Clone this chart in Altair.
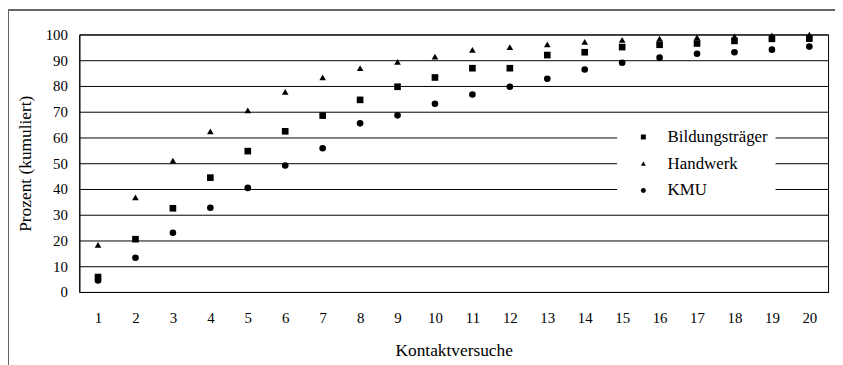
import altair as alt
import pandas as pd

kontakt = list(range(1, 21))
bildung = [5.8, 20.5, 32.5, 44.4, 54.7, 62.4, 68.5, 74.6, 79.7, 83.3,
           86.9, 86.9, 92.0, 93.1, 95.1, 96.0, 96.5, 97.5, 98.3, 98.4]
handwerk = [18.3, 36.7, 51.0, 62.4, 70.5, 77.7, 83.3, 86.9, 89.4, 91.4,
            94.0, 95.1, 96.2, 97.1, 97.9, 98.4, 98.9, 99.3, 99.6, 99.9]
kmu = [4.5, 13.3, 23.0, 32.7, 40.4, 49.1, 55.8, 65.5, 68.6, 73.1,
       76.7, 79.7, 82.8, 86.4, 89.0, 91.0, 92.5, 93.1, 94.1, 95.3]
series = ["Bildungsträger", "Handwerk", "KMU"]
shapes = ["square", "triangle-up", "circle"]

rows = []
for name, vals in zip(series, [bildung, handwerk, kmu]):
    for k, v in zip(kontakt, vals):
        rows.append({"Kontaktversuche": k, "Prozent": v, "Gruppe": name})
df = pd.DataFrame(rows)

FONT = "Liberation Serif"
axis_style = dict(labelFont=FONT, labelFontSize=15, labelColor="black",
                  titleFont=FONT, titleFontSize=17.5, titleFontWeight="normal",
                  titleColor="black")

points = alt.Chart(df).mark_point(filled=True, color="black", size=45, opacity=1).encode(
    x=alt.X("Kontaktversuche:O",
            scale=alt.Scale(type="point", padding=0.5),
            axis=alt.Axis(title="Kontaktversuche", labelAngle=0, ticks=False,
                          labelPadding=19, titlePadding=16, domain=True,
                          domainColor="black", grid=False, **axis_style)),
    y=alt.Y("Prozent:Q",
            scale=alt.Scale(domain=[0, 100], nice=False),
            axis=alt.Axis(title="Prozent (kumuliert)", values=list(range(0, 101, 10)),
                          ticks=False, labelPadding=12, titlePadding=11,
                          domain=True, domainColor="black",
                          grid=True, gridColor="black", gridWidth=1, **axis_style)),
    shape=alt.Shape("Gruppe:N",
                    scale=alt.Scale(domain=series, range=shapes),
                    legend=alt.Legend(title=None, orient="none", legendX=543, legendY=88,
                                      fillColor="white", padding=7, symbolOffset=11,
                                      symbolSize=25, symbolFillColor="black",
                                      symbolStrokeWidth=0, labelOffset=16,
                                      rowPadding=9, labelFont=FONT, labelFontSize=17,
                                      labelColor="black")),
)

frame_left = alt.Chart(df).mark_rule(color="#666666", strokeWidth=1).encode(
    x=alt.value(-71.5), y=alt.value(-24.5), y2=alt.value(400))
frame_top = alt.Chart(df).mark_rule(color="#666666", strokeWidth=1).encode(
    x=alt.value(-71.5), x2=alt.value(900), y=alt.value(-24.5))

chart = alt.layer(frame_left, frame_top, points).properties(
    width=756, height=260,
    autosize="none",
    padding={"left": 72, "top": 25, "right": 7, "bottom": 72},
    background="white",
).configure_view(stroke="black", strokeWidth=1)

chart.save("out.html", embed_options={"renderer": "svg", "actions": False})
